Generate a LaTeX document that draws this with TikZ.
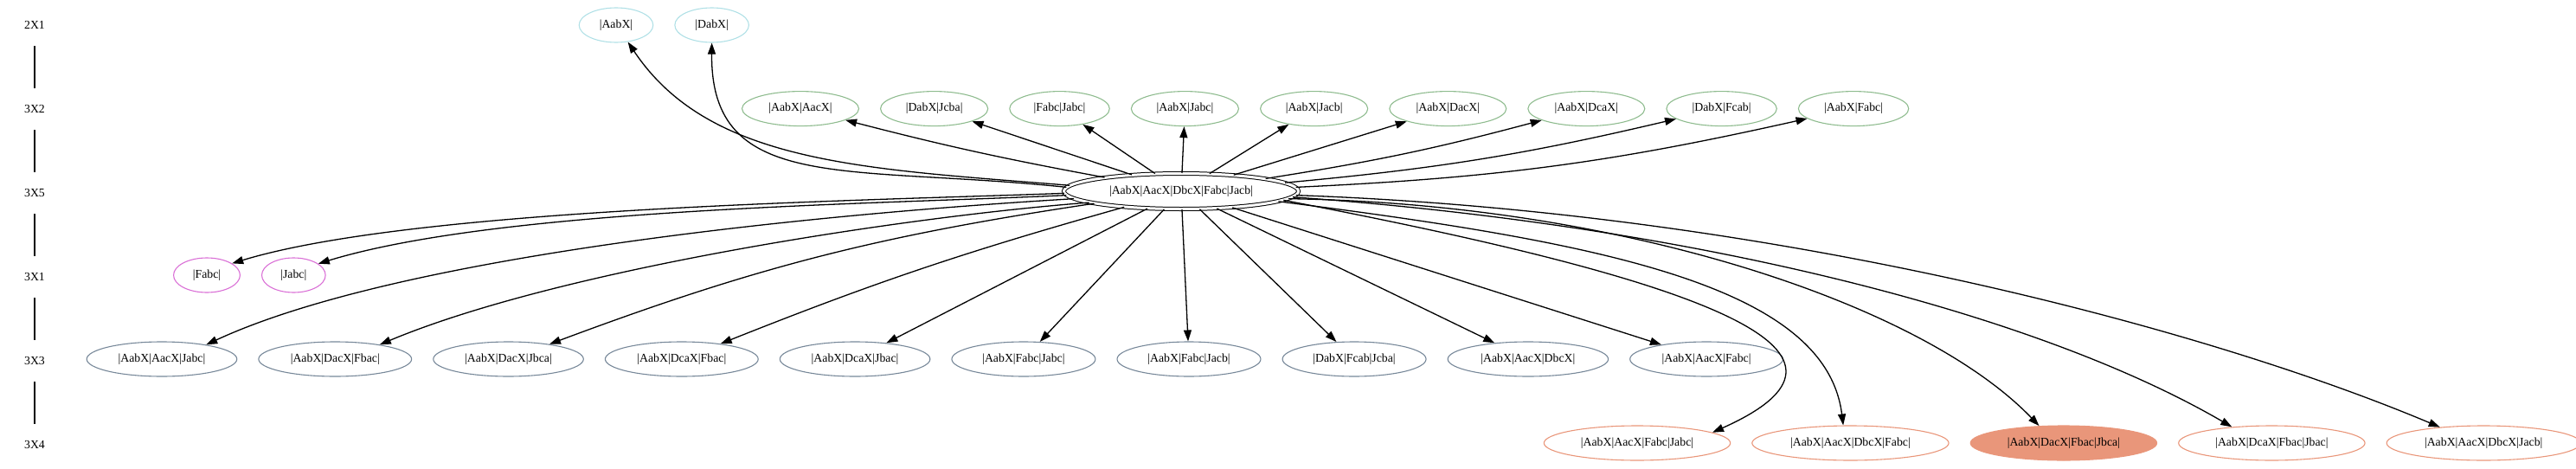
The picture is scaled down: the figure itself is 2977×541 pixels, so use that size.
\documentclass[tikz,border=0pt]{standalone}
\usepackage{fontspec}
\setmainfont{Liberation Serif}
\usetikzlibrary{positioning,arrows.meta,shapes.geometric}
\definecolor{cyanline}{RGB}{176,224,230}
\definecolor{greenline}{RGB}{143,188,143}
\definecolor{pinkline}{RGB}{218,112,214}
\definecolor{slateline}{RGB}{119,136,153}
\definecolor{salmonline}{RGB}{233,150,122}

\begin{document}
\begin{tikzpicture}[
    x=1pt, y=1pt,
    node distance=24pt,
    ranklbl/.style={minimum height=48pt, inner sep=0pt, font=\fontsize{13.8}{16}\selectfont},
    state/.style={ellipse, draw, line width=1.1pt, inner xsep=11pt, inner ysep=2pt, minimum height=40pt, font=\fontsize{13.8}{16}\selectfont},
    twoset/.style={state, draw=cyanline},
    pairset/.style={state, draw=greenline},
    single/.style={state, draw=pinkline},
    triple/.style={state, draw=slateline},
    quad/.style={state, draw=salmonline},
    hubstate/.style={state, draw=black, double, double distance=3pt, line width=1pt, inner xsep=12.8pt, minimum height=41pt},
    arrow/.style={-{Triangle[length=13pt,width=9pt]}, line width=1.3pt},
    rankline/.style={line width=1.3pt}
]
\useasboundingbox (0,0) rectangle (2977,-541);

% Rank labels
\node[ranklbl] (r2x1) at (40,-29) {2X1};
\node[ranklbl, below=48.6pt of r2x1] (r3x2) {3X2};
\node[ranklbl, below=48.6pt of r3x2] (r3x5) {3X5};
\node[ranklbl, below=48.6pt of r3x5] (r3x1) {3X1};
\node[ranklbl, below=48.6pt of r3x1] (r3x3) {3X3};
\node[ranklbl, below=48.6pt of r3x3] (r3x4) {3X4};
\draw[rankline] (r2x1) -- (r3x2);
\draw[rankline] (r3x2) -- (r3x5);
\draw[rankline] (r3x5) -- (r3x1);
\draw[rankline] (r3x1) -- (r3x3);
\draw[rankline] (r3x3) -- (r3x4);

% 2X1
\node[twoset] (p1) at (712,-29) {|AabX|};
\node[twoset, right=of p1] (p2) {|DabX|};

% 3X2
\node[pairset] (q1) at (925,-125.6) {|AabX|AacX|};
\node[pairset, right=of q1] (q2) {|DabX|Jcba|};
\node[pairset, right=of q2] (q3) {|Fabc|Jabc|};
\node[pairset, right=of q3] (q4) {|AabX|Jabc|};
\node[pairset, right=of q4] (q5) {|AabX|Jacb|};
\node[pairset, right=of q5] (q6) {|AabX|DacX|};
\node[pairset, right=of q6] (q7) {|AabX|DcaX|};
\node[pairset, right=of q7] (q8) {|DabX|Fcab|};
\node[pairset, right=of q8] (q9) {|AabX|Fabc|};

% 3X5
\node[hubstate] (hub) at (1365,-221) {|AabX|AacX|DbcX|Fabc|Jacb|};

% 3X1
\node[single] (s1) at (239,-318) {|Fabc|};
\node[single, right=of s1] (s2) {|Jabc|};

% 3X3
\node[triple] (u1) at (187,-415) {|AabX|AacX|Jabc|};
\node[triple, right=of u1] (u2) {|AabX|DacX|Fbac|};
\node[triple, right=of u2] (u3) {|AabX|DacX|Jbca|};
\node[triple, right=of u3] (u4) {|AabX|DcaX|Fbac|};
\node[triple, right=of u4] (u5) {|AabX|DcaX|Jbac|};
\node[triple, right=of u5] (u6) {|AabX|Fabc|Jabc|};
\node[triple, right=of u6] (u7) {|AabX|Fabc|Jacb|};
\node[triple, right=of u7] (u8) {|DabX|Fcab|Jcba|};
\node[triple, right=of u8] (u9) {|AabX|AacX|DbcX|};
\node[triple, right=of u9] (u10) {|AabX|AacX|Fabc|};

% 3X4
\node[quad] (v1) at (1892,-512) {|AabX|AacX|Fabc|Jabc|};
\node[quad, right=of v1] (v2) {|AabX|AacX|DbcX|Fabc|};
\node[quad, right=of v2, fill=salmonline] (v3) {|AabX|DacX|Fbac|Jbca|};
\node[quad, right=of v3] (v4) {|AabX|DcaX|Fbac|Jbac|};
\node[quad, right=of v4] (v5) {|AabX|AacX|DbcX|Jacb|};

% Edges up two ranks
\draw[arrow] (hub.177) .. controls (1000,-195) and (820,-190) .. (p1.-55);
\draw[arrow] (hub.178) .. controls (980,-190) and (821,-225) .. (p2.-90);

% Edges up one rank
\draw[arrow] (hub) to[bend left=2] (q1);
\draw[arrow] (hub) -- (q2);
\draw[arrow] (hub) -- (q3);
\draw[arrow] (hub) -- (q4);
\draw[arrow] (hub) -- (q5);
\draw[arrow] (hub) -- (q6);
\draw[arrow] (hub) to[bend right=3] (q7);
\draw[arrow] (hub) to[bend right=4] (q8);
\draw[arrow] (hub) to[bend right=5] (q9);

% Edges down one rank
\draw[arrow] (hub.181) .. controls (1000,-232) and (480,-240) .. (s1.25);
\draw[arrow] (hub.182) .. controls (1020,-236) and (580,-240) .. (s2.25);

% Edges down two ranks
\draw[arrow] (hub.184) .. controls (900,-250) and (450,-300) .. (u1.18);
\draw[arrow] (hub.187) .. controls (1050,-250) and (650,-310) .. (u2.18);
\draw[arrow] (hub) to[bend right=6] (u3);
\draw[arrow] (hub) to[bend right=3] (u4);
\draw[arrow] (hub) -- (u5);
\draw[arrow] (hub) -- (u6);
\draw[arrow] (hub) -- (u7);
\draw[arrow] (hub) -- (u8);
\draw[arrow] (hub) -- (u9);
\draw[arrow] (hub) -- (u10);

% Edges down three ranks
\draw[arrow] (hub.-5) .. controls (2000,-330) and (2180,-410) .. (v1.8);
\draw[arrow] (hub.-6) .. controls (1850,-280) and (2110,-330) .. (v2.112);
\draw[arrow] (hub.-4) .. controls (1870,-235) and (2220,-350) .. (v3.145);
\draw[arrow] (hub.-3) .. controls (1950,-260) and (2350,-360) .. (v4.158);
\draw[arrow] (hub.-2) .. controls (2050,-245) and (2550,-380) .. (v5.160);

\end{tikzpicture}
\end{document}
